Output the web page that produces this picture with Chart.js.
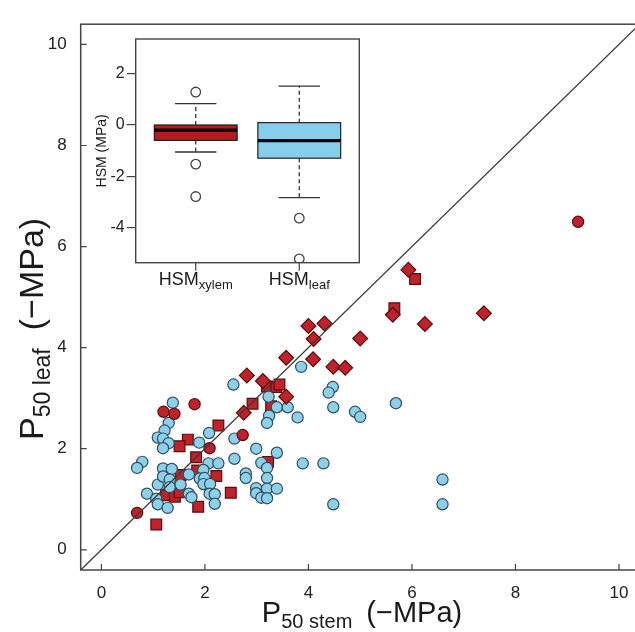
<!DOCTYPE html>
<html><head><meta charset="utf-8">
<script src="https://cdn.jsdelivr.net/npm/chart.js@4.4.0/dist/chart.umd.min.js"></script>
<style>
html,body{margin:0;padding:0;background:#fff;overflow:hidden;width:635px;height:632px}
#wrap{position:relative;width:635px;height:632px;overflow:hidden;background:#fff}
canvas{position:absolute;left:0;top:0}
</style></head><body>
<div id="wrap"><canvas id="main" width="660" height="632"></canvas><canvas id="inset" width="660" height="632"></canvas></div>
<script>
// ---------- data ----------
const xTicks = [0, 2, 4, 6, 8, 10];
const yTicks = [0, 2, 4, 6, 8, 10];
const oneToOneX = [-0.4, 10.4];
const oneToOneY = [-0.4, 10.4];

const blueX = [2.55,3.86,4.47,4.39,4.48,4.90,5.00,5.69,6.59,6.59,1.38,1.30,1.22,1.09,1.19,1.30,1.19,2.08,1.89,2.57,2.99,3.23,3.24,3.20,3.39,3.60,3.79,3.39,2.57,3.09,3.20,3.89,4.29,2.79,2.79,3.20,2.99,3.20,3.39,2.99,3.09,3.20,0.79,0.69,1.19,1.36,2.07,2.26,1.97,1.69,1.90,1.99,1.97,2.10,1.09,1.19,1.32,1.32,1.53,0.88,1.06,1.09,1.28,1.69,1.74,2.09,2.19,2.19,4.48];
const blueY = [3.27,3.62,3.22,3.11,2.82,2.73,2.63,2.90,1.39,0.90,2.91,2.51,2.36,2.22,2.20,2.11,2.01,2.31,2.12,2.20,2.00,3.03,2.65,2.51,2.82,2.82,2.62,1.92,1.80,1.72,1.62,1.71,1.71,1.51,1.42,1.42,1.22,1.21,1.21,1.12,1.03,1.02,1.74,1.62,1.61,1.60,1.71,1.71,1.58,1.49,1.41,1.42,1.30,1.30,1.29,1.45,1.39,1.24,1.29,1.11,1.01,0.90,0.83,1.11,1.04,1.11,1.10,0.91,0.90];

const redSquareX = [6.06,5.66,3.20,3.38,3.44,2.92,3.28,2.26,1.67,1.51,1.83,1.85,2.22,2.50,1.25,1.42,1.51,1.87,1.06,3.22,1.53];
const redSquareY = [5.36,4.78,3.23,3.22,3.27,2.89,2.84,2.46,2.18,2.05,1.83,1.57,1.46,1.13,1.08,1.05,1.14,0.85,0.50,1.74,1.48];

const redDiamondX = [2.81,3.12,3.57,2.75,4.48,4.71,3.57,4.09,4.00,4.31,4.10,5.00,5.63,6.25,7.39,5.93];
const redDiamondY = [3.45,3.34,3.03,2.71,3.62,3.60,3.80,3.77,4.43,4.48,4.17,4.18,4.65,4.47,4.68,5.54];

const redCircleX = [1.80,1.20,1.41,2.09,2.73,0.69,9.21];
const redCircleY = [2.88,2.73,2.69,2.01,2.27,0.73,6.49];

// inset boxplot (HSM, MPa)
const hsmGroups   = ['xylem', 'leaf'];
const hsmPos      = [1, 2];
const hsmQ1       = [-0.60, -1.29];
const hsmMedian   = [-0.20, -0.61];
const hsmQ3       = [0.00, 0.09];
const hsmWhiskLo  = [-1.05, -2.82];
const hsmWhiskHi  = [0.83, 1.51];
const hsmOutGroup = [1, 1, 1, 2, 2];
const hsmOutVal   = [1.28, -1.52, -2.78, -3.62, -5.20];
const insetYTicks = [-4, -2, 0, 2];

// ---------- styles ----------
const FONT = "'Liberation Sans', Arial, Helvetica, sans-serif";
const RED = '#C0222B', RED_EDGE = '#5a0c0c';
const BLUE = '#8DD0EA', BLUE_EDGE = '#2f4d5c';
const AXC = '#444';

const pts = (xs, ys) => xs.map((x, i) => ({x, y: ys[i]}));

function drawSubText(ctx, parts, x, y) {
  let cx = x;
  parts.forEach(p => {
    ctx.font = p.size + 'px ' + FONT;
    ctx.fillText(p.t, cx, y + (p.dy || 0));
    cx += ctx.measureText(p.t).width + (p.gap || 0);
  });
}
function partsWidth(ctx, parts) {
  let w = 0;
  parts.forEach(p => { ctx.font = p.size + 'px ' + FONT; w += ctx.measureText(p.t).width + (p.gap || 0); });
  return w;
}

const framePlugin = {
  id: 'frame',
  afterDraw(chart) {
    const {ctx, chartArea: a, scales: {x, y}} = chart;
    ctx.save();
    ctx.strokeStyle = AXC; ctx.lineWidth = 1.5;
    ctx.strokeRect(a.left, a.top, a.right - a.left, a.bottom - a.top);
    ctx.lineWidth = 1.2;
    ctx.beginPath();
    x.ticks.forEach(t => { const p = x.getPixelForValue(t.value); ctx.moveTo(p, a.bottom); ctx.lineTo(p, a.bottom - 6); });
    y.ticks.forEach(t => { const p = y.getPixelForValue(t.value); ctx.moveTo(a.left, p); ctx.lineTo(a.left + 6, p); });
    ctx.stroke();
    // axis titles
    ctx.fillStyle = '#1a1a1a';
    ctx.textBaseline = 'alphabetic'; ctx.textAlign = 'left';
    const xt = [{t:'P', size:29}, {t:'50 stem', size:20, dy:6, gap:14}, {t:'(\u2212MPa)', size:29}];
    const w = partsWidth(ctx, xt);
    drawSubText(ctx, xt, 362 - w / 2, 622);
    const yt = [{t:'P', size:34}, {t:'50 leaf', size:23, dy:7, gap:18}, {t:'(\u2212MPa)', size:34}];
    ctx.save();
    ctx.translate(43, 440);
    ctx.rotate(-Math.PI / 2);
    drawSubText(ctx, yt, 0, 0);
    ctx.restore();
    ctx.restore();
  }
};

new Chart(document.getElementById('main'), {
  type: 'scatter',
  data: { datasets: [
    { type: 'line', data: pts(oneToOneX, oneToOneY), borderColor: '#3a3a3a', borderWidth: 1.3, pointRadius: 0, fill: false, tension: 0 },
    { data: pts(redCircleX, redCircleY), pointStyle: 'circle', pointRadius: 5.6, backgroundColor: RED, borderColor: RED_EDGE, borderWidth: 1.2 },
    { data: pts(redDiamondX, redDiamondY), pointStyle: 'rectRot', pointRadius: 7.4, backgroundColor: RED, borderColor: RED_EDGE, borderWidth: 1.2 },
    { data: pts(blueX, blueY), pointStyle: 'circle', pointRadius: 5.6, backgroundColor: BLUE, borderColor: BLUE_EDGE, borderWidth: 1.2 },
    { data: pts(redSquareX, redSquareY), pointStyle: 'rect', pointRadius: 7.6, backgroundColor: RED, borderColor: RED_EDGE, borderWidth: 1.2 }
  ]},
  options: {
    responsive: false, animation: false, devicePixelRatio: 1,
    layout: { padding: { left: 10.7, top: 12, right: 20.3, bottom: 0 } },
    plugins: { legend: { display: false }, tooltip: { enabled: false } },
    scales: {
      x: { type: 'linear', min: -0.4, max: 10.4,
           afterBuildTicks: s => { s.ticks = xTicks.map(v => ({value: v})); },
           grid: { display: false, drawTicks: false }, border: { display: false },
           ticks: { font: { family: FONT, size: 17 }, color: '#222', padding: 13 },
           afterFit: s => { s.height = 62; } },
      y: { type: 'linear', min: -0.4, max: 10.4,
           afterBuildTicks: s => { s.ticks = yTicks.map(v => ({value: v})); },
           grid: { display: false, drawTicks: false }, border: { display: false },
           ticks: { font: { family: FONT, size: 17 }, color: '#222', padding: 14 },
           afterFit: s => { s.width = 70; } }
    }
  },
  plugins: [framePlugin]
});

const boxPlugin = {
  id: 'box',
  beforeDatasetsDraw(chart) {
    const {ctx, chartArea: a, scales: {x, y}} = chart;
    ctx.save();
    ctx.fillStyle = '#fff';
    ctx.fillRect(a.left, a.top, a.right - a.left, a.bottom - a.top);
    const fills = [ '#B31B1F', '#87CEEB' ];
    hsmPos.forEach((pos, i) => {
      const xl = x.getPixelForValue(pos - 0.4), xr = x.getPixelForValue(pos + 0.4);
      const cl = x.getPixelForValue(pos - 0.2), cr = x.getPixelForValue(pos + 0.2);
      const xc = x.getPixelForValue(pos);
      const yq1 = y.getPixelForValue(hsmQ1[i]), yq3 = y.getPixelForValue(hsmQ3[i]);
      const ym = y.getPixelForValue(hsmMedian[i]);
      const ylo = y.getPixelForValue(hsmWhiskLo[i]), yhi = y.getPixelForValue(hsmWhiskHi[i]);
      ctx.strokeStyle = '#333'; ctx.lineWidth = 1.3;
      ctx.setLineDash([4, 3]);
      ctx.beginPath(); ctx.moveTo(xc, yq3); ctx.lineTo(xc, yhi); ctx.moveTo(xc, yq1); ctx.lineTo(xc, ylo); ctx.stroke();
      ctx.setLineDash([]);
      ctx.beginPath(); ctx.moveTo(cl, yhi); ctx.lineTo(cr, yhi); ctx.moveTo(cl, ylo); ctx.lineTo(cr, ylo); ctx.stroke();
      ctx.fillStyle = fills[i];
      ctx.fillRect(xl, yq3, xr - xl, yq1 - yq3);
      ctx.strokeStyle = '#222'; ctx.lineWidth = 1.2;
      ctx.strokeRect(xl, yq3, xr - xl, yq1 - yq3);
      ctx.lineWidth = 3.2; ctx.strokeStyle = '#000';
      ctx.beginPath(); ctx.moveTo(xl, ym); ctx.lineTo(xr, ym); ctx.stroke();
    });
    ctx.restore();
  },
  afterDraw(chart) {
    const {ctx, chartArea: a, scales: {x, y}} = chart;
    ctx.save();
    ctx.strokeStyle = AXC; ctx.lineWidth = 1.4;
    ctx.strokeRect(a.left, a.top, a.right - a.left, a.bottom - a.top);
    ctx.lineWidth = 1.2;
    ctx.beginPath();
    hsmPos.forEach(p => { const px = x.getPixelForValue(p); ctx.moveTo(px, a.bottom); ctx.lineTo(px, a.bottom + 8); });
    ctx.stroke();
    ctx.fillStyle = '#1a1a1a'; ctx.textBaseline = 'alphabetic'; ctx.textAlign = 'left';
    hsmPos.forEach((p, i) => {
      const parts = [{t:'HSM', size:18}, {t:hsmGroups[i], size:13, dy:4}];
      const w = partsWidth(ctx, parts);
      drawSubText(ctx, parts, x.getPixelForValue(p) - w / 2, 285);
    });
    ctx.save();
    ctx.font = '14px ' + FONT;
    ctx.translate(106, (a.top + a.bottom) / 2);
    ctx.rotate(-Math.PI / 2);
    ctx.textAlign = 'center';
    ctx.fillText('HSM (MPa)', 0, 0);
    ctx.restore();
    ctx.restore();
  }
};

new Chart(document.getElementById('inset'), {
  type: 'scatter',
  data: { datasets: [
    { data: hsmOutGroup.map((g, i) => ({x: hsmPos[g - 1], y: hsmOutVal[i]})), pointStyle: 'circle', pointRadius: 4.8,
      backgroundColor: '#fff', borderColor: '#444', borderWidth: 1.3 }
  ]},
  options: {
    responsive: false, animation: false, devicePixelRatio: 1,
    layout: { padding: { left: 95.7, top: 39, right: 300.7, bottom: 339.3 } },
    plugins: { legend: { display: false }, tooltip: { enabled: false } },
    scales: {
      x: { type: 'linear', min: 0.42, max: 2.58, ticks: { display: false },
           grid: { display: false, drawTicks: false }, border: { display: false },
           afterFit: s => { s.height = 30; } },
      y: { type: 'linear', min: -5.35, max: 3.34,
           afterBuildTicks: s => { s.ticks = insetYTicks.map(v => ({value: v})); },
           ticks: { font: { family: FONT, size: 16 }, color: '#222', padding: 2, callback: v => String(v) },
           grid: { drawOnChartArea: false, drawTicks: true, tickLength: 9, color: AXC, lineWidth: 1.2 },
           border: { display: false },
           afterFit: s => { s.width = 40; } }
    }
  },
  plugins: [boxPlugin]
});
</script>
</body></html>
